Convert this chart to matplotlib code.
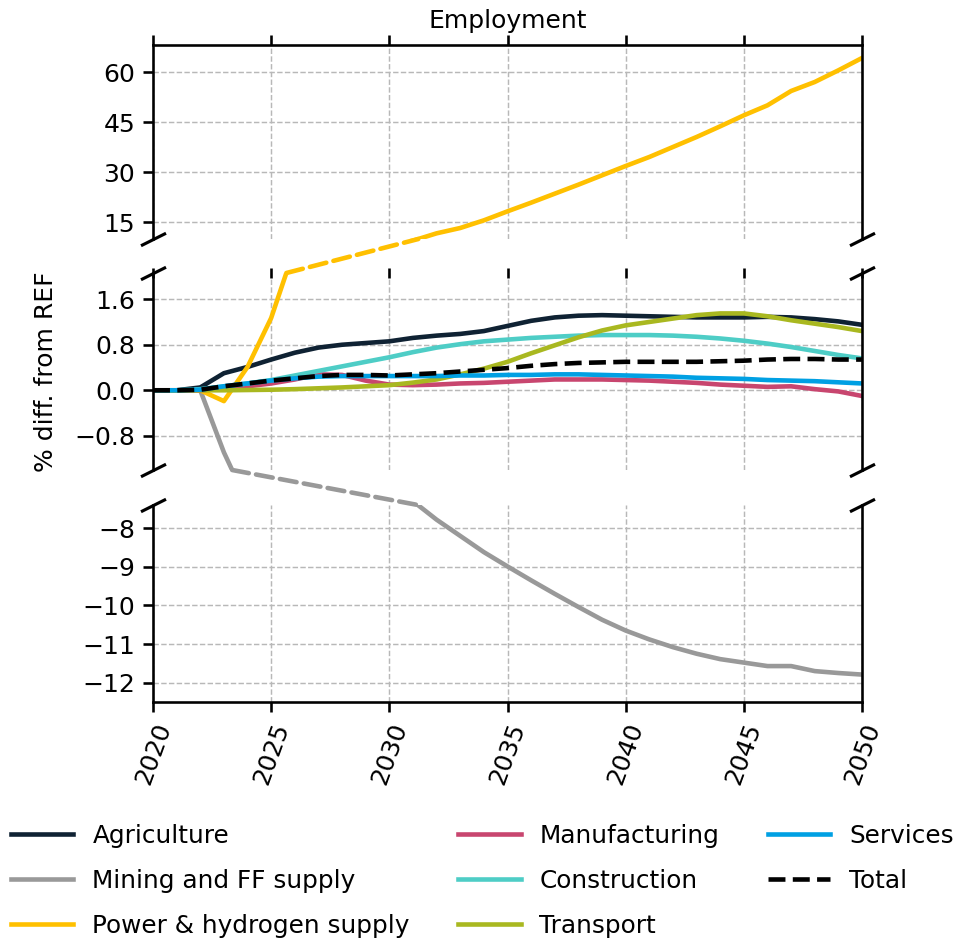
import numpy as np
import matplotlib
matplotlib.use("Agg")
import matplotlib.pyplot as plt
from matplotlib.patches import ConnectionPatch

plt.rcParams["font.family"] = ["DejaVu Sans"]
plt.rcParams["font.size"] = 12

years = np.arange(2020, 2051)

agriculture = [0.00, 0.00, 0.05, 0.30, 0.41, 0.54, 0.66, 0.75, 0.80, 0.83,
               0.86, 0.92, 0.96, 0.99, 1.04, 1.13, 1.22, 1.28, 1.31, 1.32,
               1.31, 1.30, 1.29, 1.28, 1.28, 1.28, 1.29, 1.28, 1.25, 1.21, 1.15]
mining = [0.00, 0.00, 0.00, -1.09, -1.98, -2.80, -3.60, -4.40, -5.20, -5.90,
          -6.60, -7.30, -7.78, -8.20, -8.62, -8.99, -9.35, -9.70, -10.04, -10.37,
          -10.65, -10.88, -11.08, -11.25, -11.39, -11.48, -11.57, -11.57, -11.70, -11.75, -11.79]
power = [0.00, 0.00, 0.00, -0.19, 0.41, 1.27, 2.50, 3.80, 5.10, 6.50,
         7.90, 9.40, 11.60, 13.20, 15.50, 18.20, 20.80, 23.50, 26.20, 29.00,
         31.80, 34.50, 37.50, 40.50, 43.70, 47.00, 50.00, 54.30, 57.00, 60.50, 64.20]
manufacturing = [0.00, 0.00, 0.00, 0.03, 0.07, 0.12, 0.19, 0.28, 0.27, 0.17,
                 0.10, 0.09, 0.10, 0.12, 0.13, 0.15, 0.17, 0.19, 0.19, 0.19,
                 0.18, 0.17, 0.15, 0.13, 0.10, 0.08, 0.06, 0.07, 0.02, -0.02, -0.10]
construction = [0.00, 0.00, 0.02, 0.07, 0.12, 0.18, 0.26, 0.34, 0.42, 0.50,
                0.58, 0.67, 0.75, 0.81, 0.86, 0.89, 0.92, 0.94, 0.96, 0.97,
                0.97, 0.97, 0.96, 0.94, 0.91, 0.87, 0.82, 0.76, 0.69, 0.62, 0.56]
transport = [0.00, 0.00, 0.00, 0.00, 0.005, 0.01, 0.02, 0.035, 0.05, 0.07,
             0.09, 0.135, 0.19, 0.28, 0.38, 0.50, 0.65, 0.79, 0.93, 1.05,
             1.14, 1.20, 1.26, 1.32, 1.35, 1.35, 1.30, 1.23, 1.17, 1.11, 1.04]
services = [0.00, 0.00, 0.01, 0.07, 0.12, 0.17, 0.21, 0.24, 0.25, 0.25,
            0.25, 0.25, 0.25, 0.26, 0.26, 0.27, 0.27, 0.28, 0.28, 0.27,
            0.26, 0.25, 0.24, 0.22, 0.21, 0.20, 0.18, 0.17, 0.16, 0.14, 0.12]
total = [0.00, 0.00, 0.01, 0.07, 0.12, 0.17, 0.21, 0.25, 0.27, 0.27,
         0.26, 0.28, 0.30, 0.33, 0.36, 0.39, 0.43, 0.46, 0.48, 0.49,
         0.50, 0.50, 0.50, 0.50, 0.51, 0.52, 0.54, 0.55, 0.55, 0.54, 0.54]

series = [
    ("Agriculture", agriculture, "#0f2233", "-"),
    ("Mining and FF supply", mining, "#999999", "-"),
    ("Power & hydrogen supply", power, "#ffc000", "-"),
    ("Manufacturing", manufacturing, "#c8466f", "-"),
    ("Construction", construction, "#4ecdc6", "-"),
    ("Transport", transport, "#a9b820", "-"),
    ("Services", services, "#00a0e3", "-"),
    ("Total", total, "black", "--"),
]

ylim_top = (9.9, 68.1)
ylim_mid = (-1.40, 2.06)
ylim_bot = (-12.50, -7.40)

W, H = 959, 943
fig = plt.figure(figsize=(W / 150, H / 150), dpi=150)
left, right = 153 / W, 862 / W


def box(top_px, bot_px):
    return [left, 1 - bot_px / H, right - left, (bot_px - top_px) / H]


ax_top = fig.add_axes(box(45, 239))
ax_mid = fig.add_axes(box(273, 470))
ax_bot = fig.add_axes(box(505, 702))
axes = [ax_top, ax_mid, ax_bot]

LW = 2.2
handles = []
for name, vals, col, ls in series:
    for ax in axes:
        ln, = ax.plot(years, vals, color=col, lw=LW, ls=ls, label=name)
    handles.append(ln)

for ax in axes:
    ax.set_xlim(2020, 2050)
    ax.set_xticks(np.arange(2020, 2051, 5))
    ax.grid(True, ls="--", lw=0.7, color="#b8b8b8")
    ax.set_axisbelow(True)
    for s in ax.spines.values():
        s.set_linewidth(1.25)
    ax.tick_params(axis="both", length=5, width=1.25, labelsize=12)

ax_top.set_ylim(*ylim_top)
ax_mid.set_ylim(*ylim_mid)
ax_bot.set_ylim(*ylim_bot)
ax_top.set_yticks([15, 30, 45, 60])
ax_mid.set_yticks([-0.8, 0.0, 0.8, 1.6])
ax_bot.set_yticks([-12, -11, -10, -9, -8])

ax_top.spines["bottom"].set_visible(False)
ax_top.xaxis.tick_top()
ax_top.tick_params(axis="x", labeltop=False, labelbottom=False)

ax_mid.spines["top"].set_visible(False)
ax_mid.spines["bottom"].set_visible(False)
ax_mid.xaxis.tick_top()
ax_mid.tick_params(axis="x", labeltop=False, labelbottom=False, direction="inout", length=5)

ax_bot.spines["top"].set_visible(False)
ax_bot.tick_params(axis="x", labelrotation=70)

# diagonal break marks on the spines
d = 0.5
kw = dict(marker=[(-1, -d), (1, d)], markersize=12, linestyle="none",
          color="k", mec="k", mew=1.5, clip_on=False)
ax_top.plot([0, 1], [0, 0], transform=ax_top.transAxes, **kw)
ax_mid.plot([0, 1, 0, 1], [0, 0, 1, 1], transform=ax_mid.transAxes, **kw)
ax_bot.plot([0, 1], [1, 1], transform=ax_bot.transAxes, **kw)


def crossing(x, y, level):
    y = np.asarray(y, dtype=float)
    idx = np.where(np.diff(np.sign(y - level)) != 0)[0][0]
    return x[idx] + (level - y[idx]) / (y[idx + 1] - y[idx]) * (x[idx + 1] - x[idx])


# dashed links across the axis breaks
x_a = crossing(years, power, ylim_mid[1])
x_b = crossing(years, power, ylim_top[0])
fig.add_artist(ConnectionPatch(xyA=(x_a, ylim_mid[1]), coordsA=ax_mid.transData,
                               xyB=(x_b, ylim_top[0]), coordsB=ax_top.transData,
                               color="#ffc000", lw=LW, ls="--"))
x_a = crossing(years, mining, ylim_mid[0])
x_b = crossing(years, mining, ylim_bot[1])
fig.add_artist(ConnectionPatch(xyA=(x_a, ylim_mid[0]), coordsA=ax_mid.transData,
                               xyB=(x_b, ylim_bot[1]), coordsB=ax_bot.transData,
                               color="#999999", lw=LW, ls="--"))

ax_top.set_title("Employment", fontsize=12, pad=8)
ax_mid.set_ylabel("% diff. from REF", fontsize=12)
ax_mid.yaxis.set_label_coords((58 - 153) / 709, 0.5)

fig.legend(handles=handles, labels=[s[0] for s in series], ncol=3, frameon=False,
           loc="upper left", bbox_to_anchor=(11 / W, 1 - 824 / H), borderpad=0,
           borderaxespad=0, handlelength=2.52, handletextpad=0.76, columnspacing=1.95,
           labelspacing=0.85, fontsize=11.9)

fig.savefig("out.png", dpi=150)
